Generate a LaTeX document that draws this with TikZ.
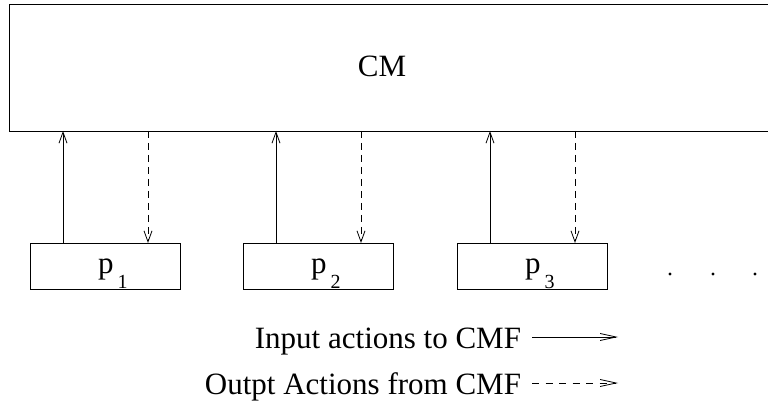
\documentclass[tikz,border=0pt]{standalone}
\usepackage{fontspec}
\setmainfont{Liberation Serif}
\usetikzlibrary{arrows.meta}
\begin{document}
\begin{tikzpicture}[x=1pt,y=-1pt,
  every node/.style={inner sep=0pt,outer sep=0pt},
  frame/.style={draw,line width=0.9pt},
  procbox/.style={frame,minimum width=150pt,minimum height=46pt,anchor=north west},
  lbl/.style={font=\fontsize{31}{36}\selectfont},
  sublbl/.style={font=\fontsize{20}{22}\selectfont},
  inarrow/.style={line width=0.8pt,-{Straight Barb[length=11pt,width=8pt,line width=0.8pt]}},
  outarrow/.style={inarrow,dash pattern=on 7.5pt off 4.5pt},
  keyin/.style={line width=0.8pt,-{Straight Barb[length=16pt,width=7pt,line width=0.8pt]}},
  keyout/.style={keyin,dash pattern=on 7pt off 6.5pt},
  dotmark/.style={fill,circle,minimum size=3.2pt}]
\useasboundingbox (0,0) rectangle (768,403);
\clip (0,0) rectangle (768,403);

% central module, running off the right edge
\node[frame,anchor=north west,minimum width=780pt,minimum height=126.5pt] (cm) at (9,4.5) {};
\node[lbl,anchor=base] (cmtxt) at (382,77) {CM};

% processes
\node[procbox] (p1) at (30,243) {};
\node[procbox] (p2) at (243,243) {};
\node[procbox] (p3) at (457,243) {};

\foreach \i in {1,2,3} {
  \node[lbl,anchor=base west] (p\i txt) at ([xshift=68pt,yshift=-31pt]p\i.north west) {p};
  \node[sublbl,anchor=base west] (p\i sub) at ([xshift=4pt,yshift=-14pt]p\i txt.base east) {\i};
  % input to CM (solid) and output from CM (dashed)
  \draw[inarrow] ([xshift=33pt]p\i.north west) -- ([xshift=33pt]p\i.north west |- cm.south);
  \draw[outarrow] ([xshift=118pt]p\i.north west |- cm.south) -- ([xshift=118pt]p\i.north west);
}

% further processes
\node[dotmark] (d1) at (670,274) {};
\node[dotmark] (d2) at (713,274) {};
\node[dotmark] (d3) at (755,274) {};

% legend
\node[lbl,anchor=base east] (keyintxt) at (521,348) {Input actions to CMF};
\node[lbl,anchor=base east] (keyouttxt) at (521,394) {Outpt Actions from CMF};
\coordinate (kinA) at (532,337);
\coordinate (kinB) at (618,337);
\coordinate (koutA) at (532,383);
\coordinate (koutB) at (618,383);
\draw[keyin] (kinA) -- (kinB);
\draw[keyout] (koutA) -- (koutB);
\end{tikzpicture}
\end{document}
